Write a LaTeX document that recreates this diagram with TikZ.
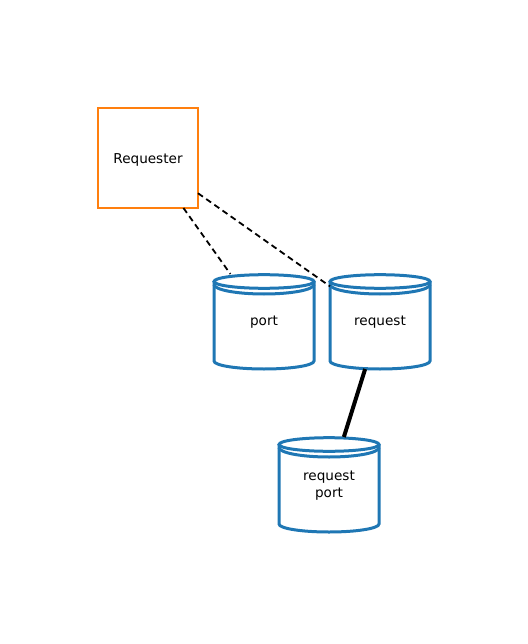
\documentclass[tikz,border=0pt]{standalone}
\usepackage{fontspec}
\setmainfont{DejaVu Sans}
\definecolor{cblue}{HTML}{1F77B4}
\definecolor{corange}{HTML}{FF7F0E}
\tikzset{
  lbl/.style={font=\fontsize{13.6}{16.5}\selectfont, align=center},
  cylnode/.style={lbl, minimum width=100pt, minimum height=95pt, inner sep=0pt, outer sep=0pt},
  reqbox/.style={lbl, draw=corange, line width=2.8pt, minimum width=100pt, minimum height=100pt, inner sep=0pt, outer sep=0pt},
  cylline/.style={draw=cblue, line width=3pt},
  dashlink/.style={dash pattern=on 6pt off 4pt, line width=1.8pt},
  solidlink/.style={line width=4pt}
}
\newcommand\drawcyl[1]{%
  \begin{scope}[shift={(#1.center)}]
    \draw[cylline] (0,40) ellipse [x radius=50, y radius=6.8];
    \draw[cylline] (-50,37) arc[start angle=180, end angle=360, x radius=50, y radius=9.5];
    \draw[cylline] (-50,40) -- (-50,-39.5) arc[start angle=180, end angle=360, x radius=50, y radius=8] -- (50,40);
  \end{scope}}
\begin{document}
\begin{tikzpicture}[x=1pt,y=1pt]
  \useasboundingbox (0,0) rectangle (527,-644);
  \node[reqbox] (requester) at (148,-158) {};
  \node[lbl] at ([yshift=-1.5pt]requester.center) {Requester};
  \node[cylnode] (port) at (264,-321.5) {};
  \node[lbl] at ([yshift=-1pt]port.center) {port};
  \node[cylnode] (request) at (380,-321.5) {};
  \node[lbl] at ([yshift=-1pt]request.center) {request};
  \node[cylnode] (reqport) at (329,-484.5) {};
  \node[lbl] at ([yshift=-1pt]reqport.center) {request\\port};
  \drawcyl{port}
  \drawcyl{request}
  \drawcyl{reqport}
  \draw[dashlink] (requester) -- (port);
  \draw[dashlink] (requester) -- (request);
  \draw[solidlink] (request) -- (reqport);
\end{tikzpicture}
\end{document}
